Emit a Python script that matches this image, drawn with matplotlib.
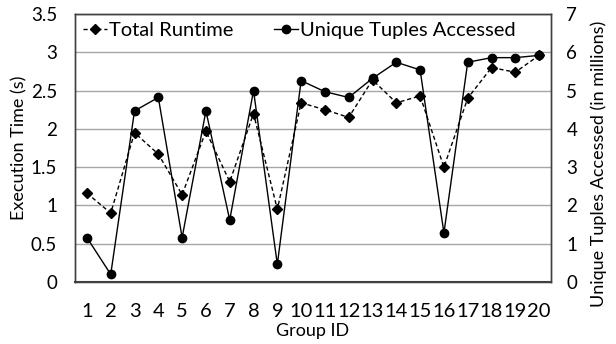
import numpy as np
import matplotlib
matplotlib.use('Agg')
from matplotlib import pyplot as plt

plt.rcParams['font.family'] = ['Lato', 'DejaVu Sans']

group_ids = [str(i) for i in range(1, 21)]
runtime_s = [1.16, 0.90, 1.95, 1.67, 1.14, 1.97, 1.31, 2.20, 0.95, 2.34,
             2.25, 2.15, 2.64, 2.34, 2.43, 1.50, 2.40, 2.80, 2.74, 2.96]
tuples_m = [1.16, 0.20, 4.47, 4.82, 1.16, 4.47, 1.62, 5.00, 0.46, 5.26,
            4.97, 4.82, 5.32, 5.74, 5.54, 1.28, 5.74, 5.86, 5.86, 5.92]

x = np.arange(len(group_ids))
edge = '#404040'

fig = plt.figure(figsize=(6.16, 3.44), dpi=100)
ax = fig.add_axes([0.1218, 0.1802, 0.7727, 0.7791])
ax2 = ax.twinx()

l1, = ax.plot(x, runtime_s, color='black', ls=(0, (3, 2)), lw=1,
              marker='D', ms=5, label='Total Runtime')
l2, = ax2.plot(x, tuples_m, color='black', ls='-', lw=1,
               marker='o', ms=6, label='Unique Tuples Accessed')

ax.set_xlim(-0.5, len(x) - 0.5)
ax.set_ylim(0, 3.5)
ax2.set_ylim(0, 7)
ax.set_yticks(np.arange(0, 3.51, 0.5))
ax.set_yticklabels(['0', '0.5', '1', '1.5', '2', '2.5', '3', '3.5'])
ax2.set_yticks(range(0, 8))
ax.set_xticks(x)
ax.set_xticklabels(group_ids)

ax.grid(axis='y', color='#a6a6a6', lw=1)
ax.set_axisbelow(True)
for a in (ax, ax2):
    for s in a.spines.values():
        s.set_color(edge)
        s.set_linewidth(1)
    a.tick_params(length=0, labelsize=13.5)
ax.spines['bottom'].set_linewidth(1.5)
ax.tick_params(axis='x', pad=15, labelsize=14.5)
ax.tick_params(axis='y', pad=13)
ax2.tick_params(axis='y', pad=11)

ax.set_xlabel('Group ID', fontsize=13, labelpad=2)
ax.set_ylabel('Execution Time (s)', fontsize=13, labelpad=2)
ax2.set_ylabel('Unique Tuples Accessed (in millions)', fontsize=13)
ax2.yaxis.set_label_coords(1.083, 0.44)

ax.legend(handles=[l1, l2], loc='upper left', ncol=2, frameon=False,
          fontsize=14.5, handlelength=1.2, handletextpad=0.1, columnspacing=2.0,
          borderaxespad=0.0, bbox_to_anchor=(0.0, 1.0))

fig.savefig('out.png', dpi=100)
